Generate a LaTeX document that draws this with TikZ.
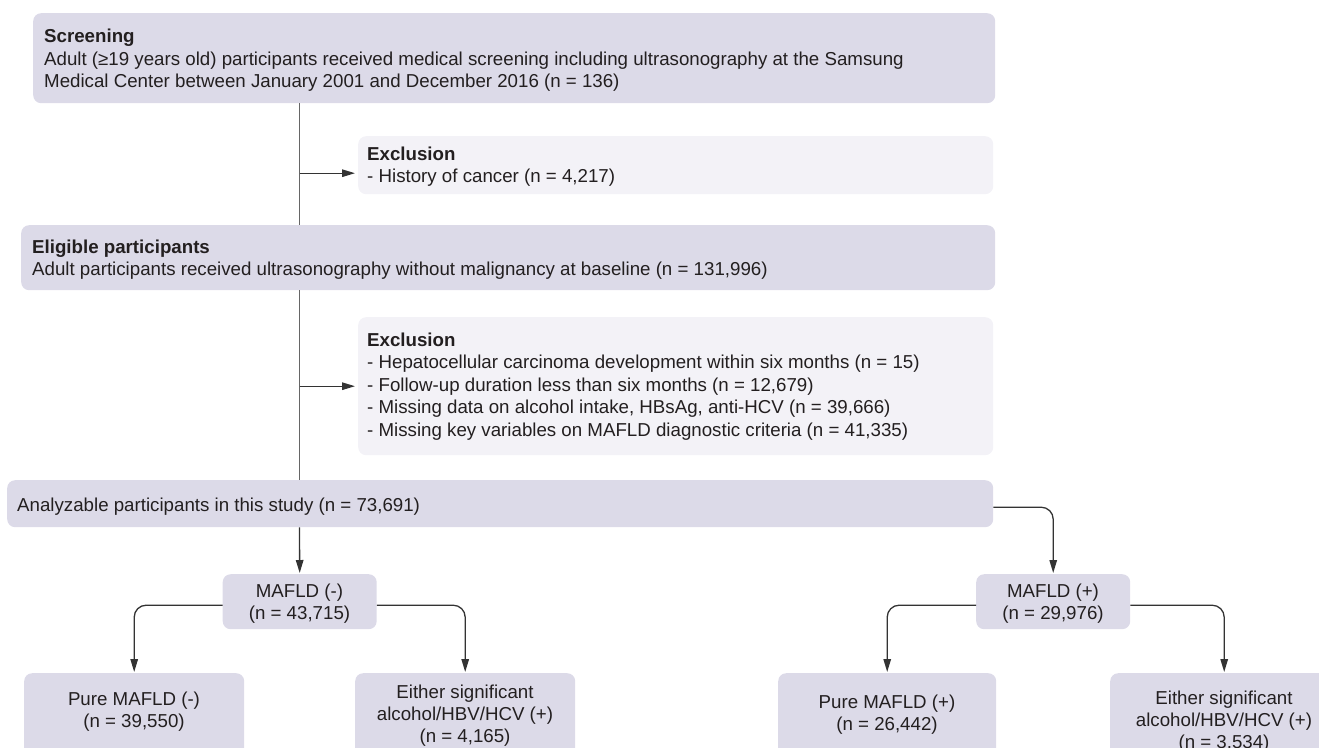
\documentclass[tikz,border=0pt]{standalone}
\usepackage{fontspec}
\setmainfont{Liberation Sans}
\usetikzlibrary{arrows.meta,calc}
\definecolor{boxdark}{HTML}{DCDAE8}
\definecolor{boxlight}{HTML}{F3F2F7}
\definecolor{ink}{HTML}{231F20}
\definecolor{linegray}{HTML}{666666}
\definecolor{arrowgray}{HTML}{333333}
\newcommand{\fl}{\rule{0pt}{14pt}}
\begin{document}
\begin{tikzpicture}[x=1pt,y=-1pt,
  every node/.style={font=\fontsize{18.7}{22.5}\selectfont, text=ink},
  darkbox/.style={draw=none, fill=boxdark, rounded corners=8pt, inner sep=0pt, anchor=north west},
  lightbox/.style={draw=none, fill=boxlight, rounded corners=8pt, inner sep=0pt, anchor=north west},
  ltext/.style={anchor=north west, inner sep=0pt, align=left},
  ctext/.style={anchor=north, inner sep=0pt, align=center, font=\fontsize{18.7}{22}\selectfont},
  trunk/.style={draw=linegray, line width=1.2pt},
  arr/.style={draw=arrowgray, line width=1.3pt, -{Triangle[length=13pt,width=7.5pt]}},
]
\useasboundingbox (0,0) rectangle (1319,747);
\clip (0,0) rectangle (1319,747);

% boxes
\node[darkbox, minimum width=962pt, minimum height=90pt] (scr) at (33,13) {};
\node[lightbox, minimum width=635pt, minimum height=58pt] (ex1) at (358,136) {};
\node[darkbox, minimum width=974pt, minimum height=65pt] (elig) at (21,225) {};
\node[lightbox, minimum width=635pt, minimum height=138pt] (ex2) at (358,317) {};
\node[darkbox, minimum width=986pt, minimum height=47pt] (an) at (7,480) {};
\node[darkbox, minimum width=154pt, minimum height=55pt] (mm) at (222.5,574) {};
\node[darkbox, minimum width=154pt, minimum height=55pt] (mp) at (976,574) {};
\node[darkbox, minimum width=220pt, minimum height=85pt] (pm) at (24,673) {};
\node[darkbox, minimum width=220pt, minimum height=90pt] (em) at (355,673) {};
\node[darkbox, minimum width=218pt, minimum height=85pt] (pp) at (778,673) {};
\node[darkbox, minimum width=228pt, minimum height=95pt] (ep) at (1110,673) {};

% texts
\node[ltext] (scrt) at (44,28.5) {\fl{\bfseries Screening}\\Adult (≥19 years old) participants received medical screening including ultrasonography at the Samsung\\Medical Center between January 2001 and December 2016 (n = 136)};
\node[ltext] (ex1t) at (367,146) {\fl{\bfseries Exclusion}\\- History of cancer (n = 4,217)};
\node[ltext] (eligt) at (32,239) {\fl{\bfseries Eligible participants}\\Adult participants received ultrasonography without malignancy at baseline (n = 131,996)};
\node[ltext] (ex2t) at (367,332) {\fl{\bfseries Exclusion}\\- Hepatocellular carcinoma development within six months (n = 15)\\- Follow-up duration less than six months (n = 12,679)\\- Missing data on alcohol intake, HBsAg, anti-HCV (n = 39,666)\\- Missing key variables on MAFLD diagnostic criteria (n = 41,335)};
\node[ltext] (ant) at (17,497.6) {\fl Analyzable participants in this study (n = 73,691)};
\node[ctext] (mmt) at (299.5,583.3) {\fl MAFLD (-)\\(n = 43,715)};
\node[ctext] (mpt) at (1053,583.3) {\fl MAFLD (+)\\(n = 29,976)};
\node[ctext] (pmt) at (134,691) {\fl Pure MAFLD (-)\\(n = 39,550)};
\node[ctext] (emt) at (465,684.3) {\fl Either significant\\alcohol/HBV/HCV (+)\\(n = 4,165)};
\node[ctext] (ppt) at (887,694.3) {\fl Pure MAFLD (+)\\(n = 26,442)};
\node[ctext] (ept) at (1224,690) {\fl Either significant\\alcohol/HBV/HCV (+)\\(n = 3,534)};

% connectors
\coordinate (tx) at (299.5,0);
\coordinate (a1) at ($(ex1.west)+(0,8)$);
\draw[trunk] (scr.south -| tx) -- (elig.north -| tx);
\draw[trunk] (elig.south -| tx) -- (an.north -| tx);
\draw[arr, shorten >=3pt] (a1 -| tx) -- (a1);
\draw[arr, shorten >=3pt] (ex2.west -| tx) -- (ex2.west);
\draw[arr, shorten >=1pt] (an.south -| tx) -- (mm.north);
\draw[arr, rounded corners=12pt, shorten >=1pt] ($(an.east)+(0,3.5)$) -| (mp.north);
\draw[arr, rounded corners=12pt, shorten >=1pt] ($(mm.west)+(0,3.5)$) -| (pm.north);
\draw[arr, rounded corners=12pt, shorten >=1pt] ($(mm.east)+(0,3.5)$) -| (em.north);
\draw[arr, rounded corners=12pt, shorten >=1pt] ($(mp.west)+(0,3.5)$) -| (pp.north);
\draw[arr, rounded corners=12pt, shorten >=1pt] ($(mp.east)+(0,3.5)$) -| (ep.north);
\end{tikzpicture}
\end{document}
